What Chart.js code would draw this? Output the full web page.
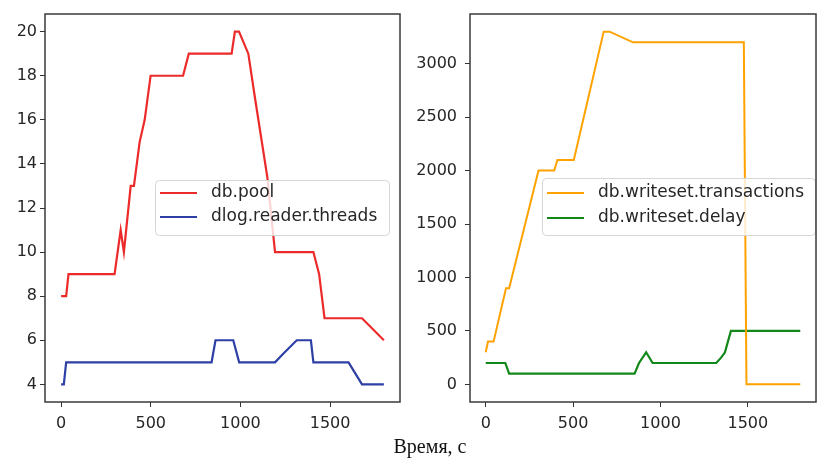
<!DOCTYPE html>
<html>
<head>
<meta charset="utf-8">
<script src="https://cdn.jsdelivr.net/npm/chart.js@4.4.0/dist/chart.umd.min.js"></script>
<style>
  html, body { margin: 0; padding: 0; background: #fff; }
  #wrap { position: relative; width: 817px; height: 459px; overflow: hidden; }
  #c1 { position: absolute; left: 0; top: 0; }
  #c2 { position: absolute; left: 408px; top: 0; }
  #xlabel { position: absolute; left: 0; width: 860px; top: 435px; text-align: center;
            font-family: "Liberation Serif", "Times New Roman", serif; font-size: 20px; color: #111; }
</style>
</head>
<body>
<div id="wrap">
  <canvas id="c1" width="408" height="440"></canvas>
  <canvas id="c2" width="409" height="440"></canvas>
  <div id="xlabel">Время, с</div>
</div>
<script>
// --- данные (время, с) ---
const poolT = [0, 28, 41, 298, 332, 350, 388, 406, 438, 466, 499, 680, 712, 951, 969, 992, 1044, 1081, 1150, 1193, 1407, 1439, 1469, 1678, 1800];
const poolV = [8, 8, 9, 9, 11, 10, 13, 13, 15, 16, 18, 18, 19, 19, 20, 20, 19, 17, 13.4, 10, 10, 9, 7, 7, 6];

const threadsT = [0, 15, 28, 839, 861, 960, 993, 1193, 1240, 1314, 1393, 1407, 1603, 1678, 1800];
const threadsV = [4, 4, 5, 5, 6, 6, 5, 5, 5.4, 6, 6, 5, 5, 4, 4];

const txT = [0, 13, 45, 116, 134, 302, 392, 410, 504, 675, 709, 843, 1477, 1492, 1800];
const txV = [300, 400, 400, 900, 900, 2000, 2000, 2100, 2100, 3300, 3300, 3200, 3200, 0, 0];

const delayT = [0, 112, 134, 852, 877, 918, 955, 1319, 1347, 1369, 1403, 1800];
const delayV = [200, 200, 100, 100, 200, 300, 200, 200, 250, 300, 500, 500];

const xTicks = [0, 500, 1000, 1500];
const leftYTicks = [4, 6, 8, 10, 12, 14, 16, 18, 20];
const rightYTicks = [0, 500, 1000, 1500, 2000, 2500, 3000];

function pts(t, v) {
  return t.map((x, i) => ({ x: x, y: v[i] }));
}

// рамка вокруг области графика (как у matplotlib)
const frame = {
  id: 'frame',
  afterDraw(chart) {
    const a = chart.chartArea, ctx = chart.ctx;
    ctx.save();
    ctx.strokeStyle = '#3a3a3a';
    ctx.lineWidth = 1.5;
    ctx.strokeRect(a.left, a.top, a.right - a.left, a.bottom - a.top);
    ctx.restore();
  }
};

// легенда внутри графика
const boxLegend = {
  id: 'boxLegend',
  afterDatasetsDraw(chart, args, o) {
    const ctx = chart.ctx;
    ctx.save();
    ctx.beginPath();
    ctx.roundRect(o.x + 0.5, o.y + 0.5, o.w, o.h, 4);
    ctx.fillStyle = 'rgba(255,255,255,0.8)';
    ctx.fill();
    ctx.strokeStyle = '#d6d6d6';
    ctx.lineWidth = 1;
    ctx.stroke();
    ctx.font = o.font;
    ctx.textBaseline = 'middle';
    chart.data.datasets.forEach((ds, i) => {
      const cy = o.y + o.first + i * o.gap;
      ctx.strokeStyle = ds.borderColor;
      ctx.lineWidth = ds.borderWidth;
      ctx.beginPath();
      ctx.moveTo(o.x + 5, cy);
      ctx.lineTo(o.x + 42, cy);
      ctx.stroke();
      ctx.fillStyle = '#262626';
      ctx.fillText(ds.label, o.x + 56, cy);
    });
    ctx.restore();
  }
};

function makeChart(id, datasets, yMin, yMax, yTicks, yWidth, yPad, padRight, legendBox) {
  const tickFont = { family: 'DejaVu Sans', size: 16 };
  return new Chart(document.getElementById(id), {
    type: 'line',
    data: { datasets: datasets },
    options: {
      responsive: false,
      animation: false,
      layout: { padding: { left: 0, right: padRight, top: 14, bottom: 0 } },
      elements: { point: { radius: 0 }, line: { tension: 0 } },
      plugins: {
        legend: { display: false },
        tooltip: { enabled: false },
        boxLegend: legendBox
      },
      scales: {
        x: {
          type: 'linear', min: -90, max: 1890,
          afterBuildTicks: s => { s.ticks = xTicks.map(v => ({ value: v })); },
          afterFit: s => { s.height = 38; s.paddingLeft = 0; s.paddingRight = 0; },
          grid: { drawOnChartArea: false, drawTicks: true, tickLength: 5, color: '#333' },
          border: { display: false },
          ticks: { font: tickFont, color: '#262626', padding: 7, maxRotation: 0, callback: v => String(v) }
        },
        y: {
          type: 'linear', min: yMin, max: yMax,
          afterBuildTicks: s => { s.ticks = yTicks.map(v => ({ value: v })); },
          afterFit: s => { s.width = yWidth; s.paddingTop = 0; s.paddingBottom = 0; },
          grid: { drawOnChartArea: false, drawTicks: true, tickLength: 5, color: '#333' },
          border: { display: false },
          ticks: { font: tickFont, color: '#262626', padding: yPad, callback: v => String(v) }
        }
      }
    },
    plugins: [frame, boxLegend]
  });
}

const legendFont = '17px "DejaVu Sans"';

makeChart('c1', [
  { label: 'db.pool', data: pts(poolT, poolV), borderColor: '#ec2a2a', borderWidth: 2.2 },
  { label: 'dlog.reader.threads', data: pts(threadsT, threadsV), borderColor: '#2e3fa6', borderWidth: 2.2 }
], 3.2, 20.8, leftYTicks, 45, 3, 8,
  { x: 155, y: 180, w: 234, h: 55, first: 13, gap: 24, font: legendFont });

makeChart('c2', [
  { label: 'db.writeset.transactions', data: pts(txT, txV), borderColor: '#ffa200', borderWidth: 2 },
  { label: 'db.writeset.delay', data: pts(delayT, delayV), borderColor: '#13881a', borderWidth: 2.2 }
], -165, 3465, rightYTicks, 62, 8, 1,
  { x: 134, y: 178, w: 273, h: 57, first: 15, gap: 25, font: legendFont });
</script>
</body>
</html>
